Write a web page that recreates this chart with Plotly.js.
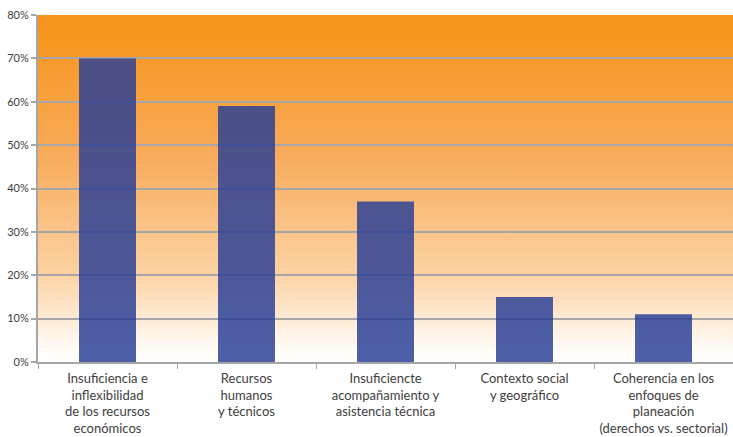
<!DOCTYPE html>
<html>
<head>
<meta charset="utf-8">
<script src="https://cdn.plot.ly/plotly-3.0.1.min.js"></script>
<style>
  html, body { margin: 0; padding: 0; background: #ffffff; }
  #wrap { position: relative; width: 733px; height: 437px; }
  #bg {
    position: absolute; left: 38px; top: 15px; width: 695px; height: 347px;
    background: linear-gradient(to bottom, #f7941d 0%, #f7961f 6%, #f8ab5a 40%, #fcd3a4 75%, #fff9f2 95%, #ffffff 100%);
  }
  #chart { position: absolute; left: 0; top: 0; width: 733px; height: 437px; }
</style>
</head>
<body>
<div id="wrap">
  <div id="bg"></div>
  <div id="chart"></div>
</div>
<script>
// Categories (with line breaks for the axis labels) and shares
const categories = [
  'Insuficiencia e<br>inflexibilidad<br>de los recursos<br>económicos',
  'Recursos<br>humanos<br>y técnicos',
  'Insuficiencte<br>acompañamiento y<br>asistencia técnica',
  'Contexto social<br>y geográfico',
  'Coherencia en los<br>enfoques de<br>planeación<br>(derechos vs. sectorial)'
];
const shares = [0.70, 0.59, 0.37, 0.15, 0.11];
const yTickVals = [0, 0.1, 0.2, 0.3, 0.4, 0.5, 0.6, 0.7, 0.8];
const yTickText = ['0%', '10%', '20%', '30%', '40%', '50%', '60%', '70%', '80%'];

const trace = {
  type: 'bar',
  x: categories,
  y: shares,
  width: 0.41,
  marker: { color: 'rgba(41,63,150,0.83)', line: { width: 0 } },
  hoverinfo: 'skip'
};

const layout = {
  width: 733,
  height: 437,
  margin: { l: 38, r: 0, t: 15, b: 75, pad: 0 },
  paper_bgcolor: 'rgba(0,0,0,0)',
  plot_bgcolor: 'rgba(0,0,0,0)',
  showlegend: false,
  font: { family: 'Lato, "DejaVu Sans", sans-serif', color: '#404040' },
  xaxis: {
    type: 'category',
    showgrid: false,
    showline: true,
    linecolor: '#a6a6a6',
    linewidth: 2,
    ticks: 'outside',
    tickson: 'boundaries',
    ticklen: 5,
    tickcolor: '#a6a6a6',
    tickwidth: 1,
    ticklabelstandoff: 3,
    tickfont: { size: 13, color: '#404040' },
    tickangle: 0,
    automargin: false
  },
  yaxis: {
    range: [0, 0.8],
    tickvals: yTickVals,
    ticktext: yTickText,
    showgrid: true,
    gridcolor: '#a6a6a6',
    gridwidth: 2,
    zeroline: false,
    showline: true,
    linecolor: '#a6a6a6',
    linewidth: 2,
    ticks: 'outside',
    ticklen: 5,
    tickcolor: '#a6a6a6',
    tickwidth: 2,
    tickfont: { size: 11, color: '#404040' },
    automargin: false
  }
};

Plotly.newPlot('chart', [trace], layout, { displayModeBar: false, staticPlot: true });
</script>
</body>
</html>
